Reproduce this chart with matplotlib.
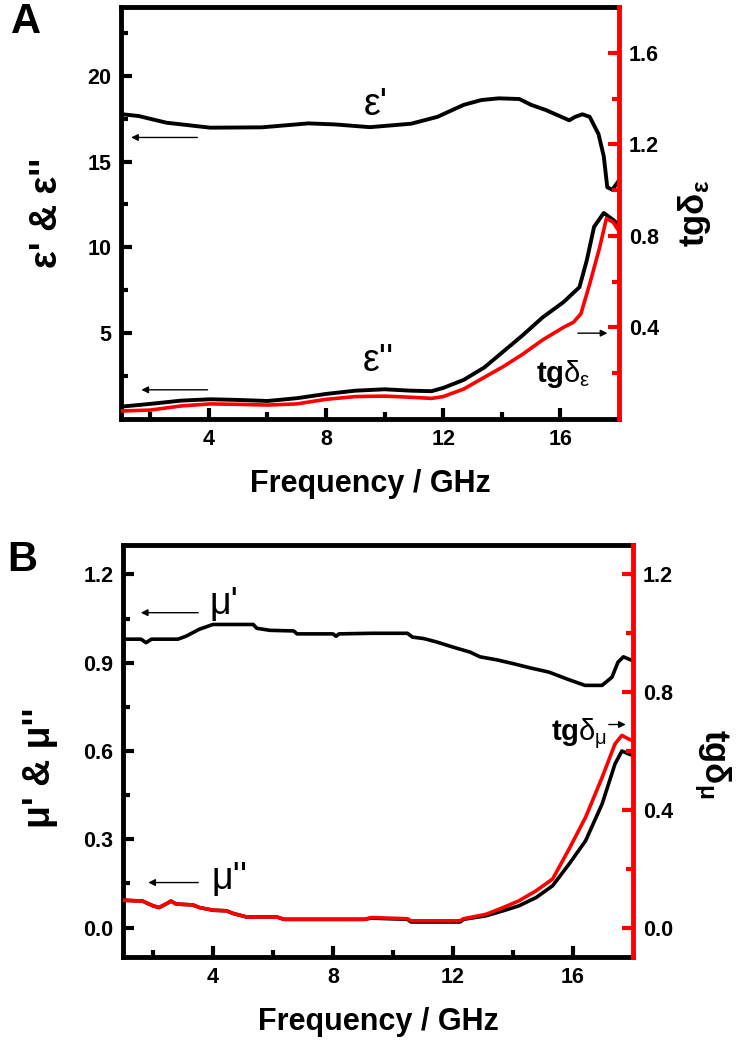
import matplotlib
matplotlib.use('Agg')
from matplotlib import pyplot as plt
from matplotlib.ticker import FixedLocator

plt.rcParams['font.family'] = ['Liberation Sans', 'DejaVu Sans']
plt.rcParams['mathtext.fontset'] = 'custom'
plt.rcParams['mathtext.rm'] = 'Liberation Sans'
plt.rcParams['mathtext.it'] = 'Liberation Sans'
plt.rcParams['mathtext.bf'] = 'Liberation Sans:bold'

# panel A : permittivity
eps1_f = [1.0, 1.6, 2.55, 4.05, 5.8, 7.4, 8.3, 9.5, 10.9, 11.8, 12.7, 13.3, 13.9,
          14.6, 15.0, 15.5, 15.9, 16.3, 16.5, 16.75, 17.0, 17.3, 17.48, 17.6, 17.77, 18.0]
eps1 = [17.76, 17.65, 17.26, 16.97, 16.99, 17.22, 17.16, 17.0, 17.2, 17.6, 18.3, 18.58, 18.68,
        18.64, 18.3, 18.0, 17.7, 17.4, 17.6, 17.75, 17.6, 16.6, 15.3, 13.5, 13.35, 13.9]

eps2_f = [1.0, 2.0, 3.05, 4.05, 5.0, 6.0, 7.0, 8.0, 9.0, 10.0, 10.9, 11.6, 12.0, 12.7,
          13.4, 14.05, 14.7, 15.4, 16.1, 16.65, 16.9, 17.15, 17.48, 17.8, 18.0]
eps2 = [0.72, 0.88, 1.07, 1.15, 1.11, 1.05, 1.21, 1.46, 1.65, 1.73, 1.65, 1.62, 1.81, 2.28,
        3.0, 3.93, 4.86, 5.93, 6.8, 7.68, 9.24, 11.2, 12.0, 11.6, 11.3]

tge_f = [1.0, 2.0, 3.05, 4.05, 5.0, 6.0, 7.0, 8.0, 9.0, 10.0, 10.9, 11.6, 12.0, 12.7,
         13.4, 14.05, 14.7, 15.4, 16.1, 16.45, 16.7, 17.0, 17.34, 17.57, 17.8, 18.0]
tge = [0.035, 0.039, 0.057, 0.066, 0.064, 0.061, 0.066, 0.086, 0.098, 0.10, 0.095, 0.090, 0.098, 0.131,
       0.182, 0.229, 0.282, 0.346, 0.40, 0.423, 0.46, 0.59, 0.75, 0.876, 0.86, 0.82]

# panel B : permeability
mu1_f = [1.0, 1.6, 1.77, 1.95, 2.83, 3.1, 3.55, 4.0, 5.34, 5.46, 5.9, 6.69, 6.8, 8.0, 8.1, 8.2,
         9.3, 10.48, 10.65, 11.03, 11.47, 12.0, 12.57, 12.9, 13.45, 14.0, 14.55, 15.2, 15.87,
         16.4, 16.97, 17.3, 17.5, 17.68, 17.96]
mu1 = [0.98, 0.98, 0.968, 0.98, 0.98, 0.99, 1.014, 1.03, 1.03, 1.017, 1.01, 1.008, 0.998, 0.998, 0.99, 0.998,
       1.0, 1.0, 0.987, 0.982, 0.97, 0.953, 0.936, 0.92, 0.91, 0.897, 0.883, 0.868, 0.842,
       0.823, 0.823, 0.851, 0.902, 0.92, 0.908]

mu2_f = [1.0, 1.65, 2.0, 2.2, 2.43, 2.6, 2.77, 3.33, 3.55, 4.0, 4.45, 4.67, 5.12, 6.13, 6.36,
         9.05, 9.27, 10.48, 10.6, 12.24, 12.35, 13.1, 13.67, 14.2, 14.77, 15.32, 15.87, 16.42,
         16.97, 17.4, 17.63, 17.85, 18.0]
mu2 = [0.093, 0.09, 0.074, 0.068, 0.08, 0.09, 0.08, 0.077, 0.068, 0.059, 0.057, 0.048, 0.036, 0.036, 0.028,
       0.028, 0.032, 0.028, 0.019, 0.019, 0.028, 0.04, 0.057, 0.074, 0.102, 0.142, 0.216, 0.295,
       0.42, 0.556, 0.60, 0.59, 0.585]
tgm = [0.093, 0.09, 0.074, 0.068, 0.08, 0.09, 0.08, 0.077, 0.068, 0.059, 0.057, 0.048, 0.036, 0.036, 0.028,
       0.028, 0.034, 0.030, 0.023, 0.023, 0.030, 0.045, 0.068, 0.091, 0.125, 0.165, 0.267, 0.375,
       0.51, 0.624, 0.653, 0.641, 0.635]

xmaj = [4, 8, 12, 16]
xmin = [2, 6, 10, 14]

fig = plt.figure(figsize=(7.38, 10.55), dpi=100)
axA = fig.add_axes([121/738, 1 - 419/1055, 498/738, 412/1055])
axB = fig.add_axes([123/738, 1 - 957/1055, 510/738, 412/1055])

TICK = 15.5
LAB = 22


def style(ax, tw, ymaj, ymin, ylim, y2maj, y2min, y2lim, fmt, fmt2):
    ax.set_xlim(1, 18)
    ax.set_ylim(*ylim)
    tw.set_ylim(*y2lim)
    ax.xaxis.set_major_locator(FixedLocator(xmaj))
    ax.xaxis.set_minor_locator(FixedLocator(xmin))
    ax.yaxis.set_major_locator(FixedLocator(ymaj))
    ax.yaxis.set_minor_locator(FixedLocator(ymin))
    tw.yaxis.set_major_locator(FixedLocator(y2maj))
    tw.yaxis.set_minor_locator(FixedLocator(y2min))
    ax.set_yticklabels([fmt % v for v in ymaj])
    tw.set_yticklabels([fmt2 % v for v in y2maj])
    ax.set_xticklabels([str(v) for v in xmaj])
    for s in ['left', 'top', 'bottom']:
        ax.spines[s].set_linewidth(3.5)
        tw.spines[s].set_visible(False)
    ax.spines['right'].set_visible(False)
    tw.spines['right'].set_color('red')
    tw.spines['right'].set_linewidth(3.5)
    ax.tick_params(which='both', direction='in', top=False, right=False, width=3, pad=7,
                   labelsize=TICK)
    ax.tick_params(which='major', length=8)
    ax.tick_params(which='minor', length=5)
    tw.tick_params(which='both', direction='in', color='red', width=3, pad=7, labelsize=TICK)
    tw.tick_params(which='major', length=8)
    tw.tick_params(which='minor', length=5)
    for lab in ax.get_xticklabels() + ax.get_yticklabels() + tw.get_yticklabels():
        lab.set_fontweight('bold')
    ax.set_xlabel('Frequency / GHz', fontsize=LAB, fontweight='bold', labelpad=14)


def arrow(ax, x0, x1, y):
    ax.annotate('', xy=(x1, y), xytext=(x0, y),
                arrowprops=dict(arrowstyle='-|>', lw=1.0, color='black', mutation_scale=10))


# ---- panel A
twA = axA.twinx()
axA.plot(eps1_f, eps1, color='black', lw=2.8)
axA.plot(eps2_f, eps2, color='black', lw=2.8)
twA.plot(tge_f, tge, color='red', lw=2.6)
style(axA, twA, [5, 10, 15, 20], [2.5, 7.5, 12.5, 17.5, 22.5], (0, 24),
      [0.4, 0.8, 1.2, 1.6], [0.2, 0.6, 1.0, 1.4], (0, 1.8), '%d', '%.1f')
axA.set_ylabel("ε' & ε''", fontsize=27, fontweight='bold', labelpad=16)
twA.set_ylabel(r'$\mathbf{tgδ}_{\mathbf{ε}}$', fontsize=25, labelpad=12)
axA.text(9.7, 18.3, "ε'", fontsize=27, ha='center', va='center')
axA.text(9.8, 3.4, "ε''", fontsize=27, ha='center', va='center')
axA.text(16.1, 2.6, r'$\mathbf{tg}\mathrm{δ}_{\mathrm{ε}}$', fontsize=21, ha='center', va='center')
arrow(axA, 3.7, 1.25, 16.4)
arrow(axA, 4.05, 1.6, 1.7)
arrow(axA, 16.5, 17.7, 5.0)
fig.text(0.015, 1 - 22/1055, 'A', fontsize=30, fontweight='bold', va='center')

# ---- panel B
twB = axB.twinx()
axB.plot(mu1_f, mu1, color='black', lw=2.6)
axB.plot(mu2_f, mu2, color='black', lw=2.6)
twB.plot(mu2_f, tgm, color='red', lw=2.6)
style(axB, twB, [0.0, 0.3, 0.6, 0.9, 1.2], [0.15, 0.45, 0.75, 1.05], (-0.1, 1.3),
      [0.0, 0.4, 0.8, 1.2], [0.2, 0.6, 1.0], (-0.1, 1.3), '%.1f', '%.1f')
axB.set_ylabel("μ' & μ''", fontsize=27, fontweight='bold', labelpad=18, y=0.46)
twB.set_ylabel(r'$\mathbf{tgδ}_{\mathbf{μ}}$', fontsize=25, rotation=-90, va='bottom',
               labelpad=14, y=0.47)
axB.text(4.35, 1.10, "μ'", fontsize=27, ha='center', va='center')
axB.text(4.55, 0.165, "μ''", fontsize=27, ha='center', va='center')
axB.text(16.2, 0.66, r'$\mathbf{tg}\mathrm{δ}_{\mathrm{μ}}$', fontsize=21, ha='center', va='center')
arrow(axB, 3.6, 1.5, 1.07)
arrow(axB, 3.6, 1.75, 0.153)
arrow(axB, 17.1, 17.85, 0.69)
fig.text(0.01, 1 - 560/1055, 'B', fontsize=30, fontweight='bold', va='center')

fig.savefig('out.png', dpi=100)
